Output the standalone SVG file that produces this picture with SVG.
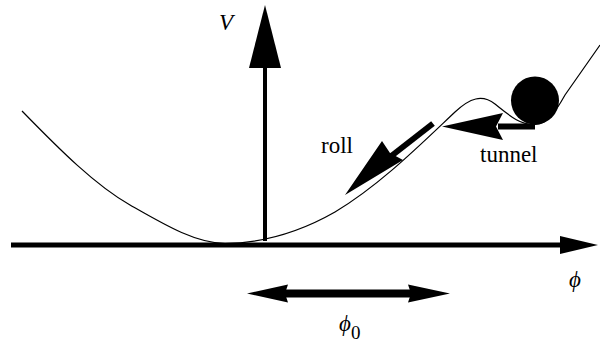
<svg xmlns="http://www.w3.org/2000/svg" width="600" height="343" viewBox="0 0 600 343">
<style>
.txt{font-family:"Liberation Serif","DejaVu Serif","Times New Roman",serif;font-size:23px;fill:#000}
.it{font-style:italic}
.curve{fill:none;stroke:#000;stroke-width:1.2}
.shaft{stroke:#000;fill:none}
.head{fill:#000;stroke:none}
</style>
<rect width="600" height="343" fill="#fff"/>
<g id="potential">
<path class="curve" d="M22,111 C60,150 95,185 130,205 C165,225 195,243 225,243.5 C262,243 300,232 335,212 C380,185 420,145 455,112 C470,98 482,94 495,104 C510,116 520,125 535,124.5 C548,124 556,111 565,95 L600,45"/>
</g>
<g id="connectors">
<g id="phi-axis">
<line class="shaft" x1="11" y1="245" x2="562" y2="245" stroke-width="5"/>
<polygon class="head" points="598,245 560,236 560,254"/>
</g>
<g id="V-axis">
<line class="shaft" x1="265" y1="241" x2="265" y2="66" stroke-width="4"/>
<polygon class="head" points="265,5 249,68 281,68"/>
</g>
<g id="roll-arrow">
<line class="shaft" x1="433" y1="123.5" x2="390" y2="157" stroke-width="6"/>
<polygon class="head" points="345,195 382,141 390,153 403,160"/>
</g>
<g id="tunnel-arrow">
<line class="shaft" x1="535" y1="126.5" x2="498" y2="126.5" stroke-width="6"/>
<polygon class="head" points="442,126.5 503,113 496,126.5 503,140"/>
</g>
<g id="phi0-arrow">
<line class="shaft" x1="284" y1="293.5" x2="412" y2="293.5" stroke-width="8"/>
<polygon class="head" points="247,293.5 288,284.5 285,293.5 288,302.5"/>
<polygon class="head" points="450,293.5 408,284.5 411,293.5 408,302.5"/>
</g>
</g>
<g id="ball">
<circle cx="535" cy="100.5" r="24" fill="#000"/>
</g>
<g id="labels">
<text class="txt it" x="219" y="30" font-size="24">V</text>
<text class="txt" x="321" y="153">roll</text>
<text class="txt" x="480" y="162">tunnel</text>
<text class="txt it" x="569" y="287">ϕ</text>
<text class="txt it" x="339" y="331">ϕ<tspan font-style="normal" font-size="19" dy="8">0</tspan></text>
</g>
</svg>
